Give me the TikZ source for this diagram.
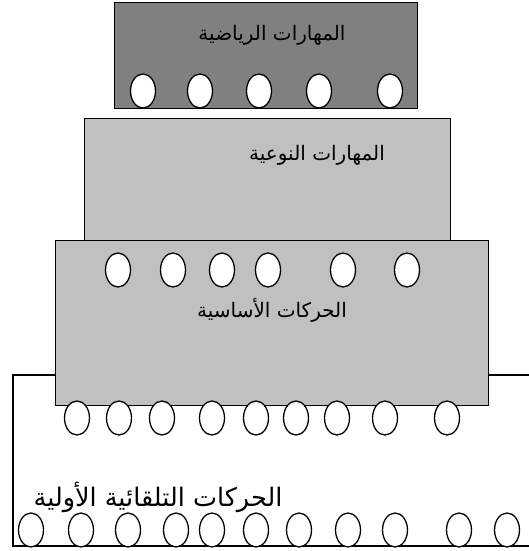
\documentclass[tikz,border=0pt]{standalone}
\usepackage{fontspec}
\usetikzlibrary{shapes.geometric}
\TeXXeTstate=1
\newfontfamily\arabicfont[Script=Arabic]{DejaVu Sans}
\definecolor{darkbox}{HTML}{808080}
\definecolor{lightbox}{HTML}{C0C0C0}
\tikzset{
  layer/.style={draw=black, line width=1.3pt, anchor=north west, inner sep=0pt},
  bead/.style={draw=black, line width=1.3pt, fill=white, ellipse, inner sep=0pt, minimum width=25pt, minimum height=34pt},
  label/.style={inner sep=0pt, font=\arabicfont\fontsize{20}{23}\selectfont},
}
\begin{document}
\begin{tikzpicture}[x=1pt,y=-1pt]
\useasboundingbox (0,0) rectangle (529,551);
% outer base frame
\coordinate (ftr) at (529,375);
\coordinate (ftl) at (13,375);
\coordinate (fbl) at (13,546);
\coordinate (fbr) at (529,546);
\draw[line width=1.3pt] (ftr) -- (ftl) -- (fbl) -- (fbr);
% boxes
\node[layer, fill=darkbox, minimum width=303pt, minimum height=106pt] (top) at (114,2) {};
\node[layer, fill=lightbox, minimum width=366pt, minimum height=130pt] (mid) at (84,118) {};
\node[layer, fill=lightbox, minimum width=433pt, minimum height=165pt] (base) at (55,240) {};
% labels
\node[label] (t1) at (272,35) {\beginR المهارات الرياضية\endR};
\node[label] (t2) at (317,155) {\beginR المهارات النوعية\endR};
\node[label] (t3) at (272,310) {\beginR الحركات الأساسية\endR};
\node[label, font=\arabicfont\fontsize{25.5}{29}\selectfont] (t4) at (158,497) {\beginR الحركات التلقائية الأولية\endR};
% beads top box
\foreach \x [count=\i] in {143,200,259,319,390} \node[bead] (a\i) at (\x,91) {};
% beads base box upper row
\foreach \x [count=\i] in {118,173,222,268,343,407} \node[bead] (b\i) at (\x,270) {};
% beads under base box
\foreach \x [count=\i] in {77,119,162,212,256,296,337,385,447} \node[bead] (c\i) at (\x,418) {};
% beads bottom row
\foreach \x [count=\i] in {31,81,128,176,212,256,299,348,395,459,507} \node[bead] (d\i) at (\x,530) {};
\end{tikzpicture}
\end{document}
